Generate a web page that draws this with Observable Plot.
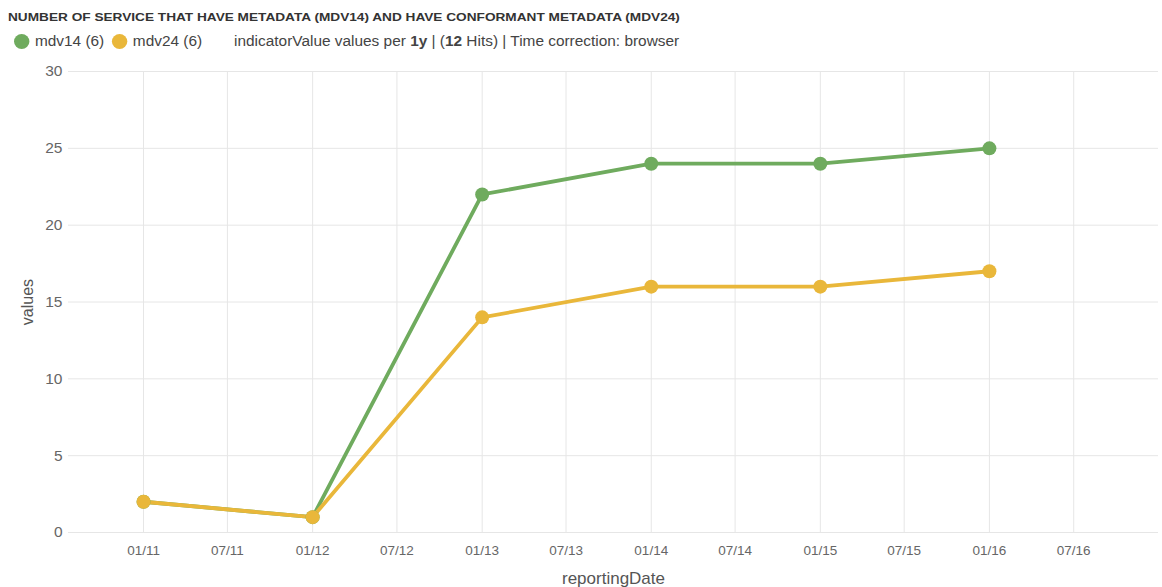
<!DOCTYPE html>
<html>
<head>
<meta charset="utf-8">
<script src="https://cdn.jsdelivr.net/npm/d3@7"></script>
<script src="https://cdn.jsdelivr.net/npm/@observablehq/plot@0.6"></script>
<style>
  html, body { margin: 0; padding: 0; background: #fff; }
  body { width: 1162px; height: 587px; overflow: hidden; font-family: "Liberation Sans", Arial, sans-serif; position: relative; }
  #title { position: absolute; left: 8px; top: 11px; font-size: 11px; font-weight: bold; color: #333; transform: scaleX(1.24); transform-origin: left top; white-space: nowrap; }
  #legend { position: absolute; left: 14px; top: 33px; font-size: 14px; color: #444; display: flex; align-items: center; white-space: pre; transform: scaleX(1.1); transform-origin: left top; }
  .dot { display: inline-block; width: 14px; height: 15px; border-radius: 50%; margin-right: 5px; }
  #chart { position: absolute; left: 0; top: 60px; }
</style>
</head>
<body>
<div id="title"></div>
<div id="legend"></div>
<div id="chart"></div>
<script>
const titleText = "NUMBER OF SERVICE THAT HAVE METADATA (MDV14) AND HAVE CONFORMANT METADATA (MDV24)";
const seriesNames = ["mdv14", "mdv24"];
const seriesColors = ["#6fab5e", "#e9b73a"];
const reportingDates = ["2011-01-01", "2012-01-01", "2013-01-01", "2014-01-01", "2015-01-01", "2016-01-01"];
const mdv14 = [2, 1, 22, 24, 24, 25];
const mdv24 = [2, 1, 14, 16, 16, 17];
const xTicks = ["2011-01-01","2011-07-01","2012-01-01","2012-07-01","2013-01-01","2013-07-01","2014-01-01","2014-07-01","2015-01-01","2015-07-01","2016-01-01","2016-07-01"];
const yTicks = [0, 5, 10, 15, 20, 25, 30];

document.getElementById("title").textContent = titleText;
const legend = document.getElementById("legend");
const counts = [mdv14.length, mdv24.length];
seriesNames.forEach((n, i) => {
  const d = document.createElement("span");
  d.className = "dot"; d.style.background = seriesColors[i];
  legend.appendChild(d);
  const t = document.createElement("span");
  t.textContent = `${n} (${counts[i]})`;
  t.style.marginRight = i === 0 ? "7px" : "29px";
  legend.appendChild(t);
});
const info = document.createElement("span");
info.innerHTML = "indicatorValue values per <b>1y</b> | (<b>12</b> Hits) | Time correction: browser";
legend.appendChild(info);

const parse = d3.utcParse("%Y-%m-%d");
const data = [];
reportingDates.forEach((d, i) => {
  data.push({date: parse(d), value: mdv14[i], series: seriesNames[0]});
});
reportingDates.forEach((d, i) => {
  data.push({date: parse(d), value: mdv24[i], series: seriesNames[1]});
});
const ticks = xTicks.map(parse);

const chart = Plot.plot({
  width: 1162,
  height: 527,
  marginLeft: 68,
  marginRight: 4,
  marginTop: 11,
  marginBottom: 55,
  style: {fontFamily: "'Liberation Sans', Arial, sans-serif", fontSize: "13px", color: "#666", background: "#fff"},
  x: {type: "utc", domain: [parse("2010-07-23"), parse("2016-12-31")], ticks: ticks, tickFormat: d3.utcFormat("%m/%y"), label: null},
  y: {domain: [0, 30], ticks: yTicks, label: null},
  color: {domain: seriesNames, range: seriesColors},
  marks: [
    Plot.gridX(ticks, {stroke: "#e6e6e6", strokeOpacity: 1, strokeWidth: 1}),
    Plot.gridY(yTicks, {stroke: "#e6e6e6", strokeOpacity: 1, strokeWidth: 1}),
    Plot.axisX({ticks: ticks, tickFormat: d3.utcFormat("%m/%y"), tickSize: 0, tickPadding: 13, fontSize: 13.5, fill: "#666", label: null}),
    Plot.axisY({ticks: yTicks, tickSize: 0, tickPadding: 6, fontSize: 15.5, fill: "#666", label: null}),
    Plot.text(["reportingDate"], {frameAnchor: "bottom", dy: 51, fontSize: 17, fill: "#555"}),
    Plot.text(["values"], {frameAnchor: "left", textAnchor: "middle", dx: -41, rotate: -90, fontSize: 16, fill: "#555"}),
    Plot.line(data, {x: "date", y: "value", z: "series", stroke: "series", strokeWidth: 3.8}),
    Plot.dot(data, {x: "date", y: "value", fill: "series", r: 7})
  ]
});
document.getElementById("chart").appendChild(chart);
</script>
</body>
</html>
